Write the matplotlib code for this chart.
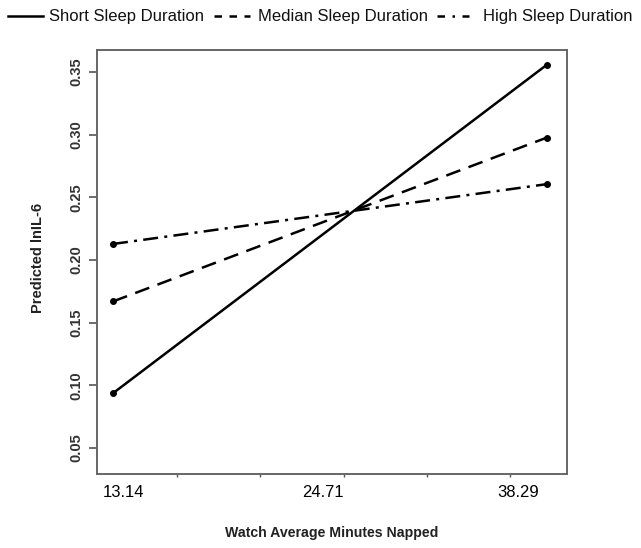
import numpy as np
import matplotlib
matplotlib.use("Agg")
import matplotlib.pyplot as plt
from matplotlib.lines import Line2D

plt.rcParams["font.family"] = ["Liberation Sans", "DejaVu Sans"]

# watch average minutes napped (low / high)
nap_x = [13.14, 38.29]
nap_labels = ["13.14", "24.71", "38.29"]
nap_label_pos = [13.72, 25.31, 36.61]

# predicted lnIL-6 per sleep-duration group
short_sleep = [0.0936, 0.3560]
median_sleep = [0.1669, 0.2978]
high_sleep = [0.2128, 0.2606]

y_ticks = [0.05, 0.10, 0.15, 0.20, 0.25, 0.30, 0.35]

W, H = 641, 548
fig = plt.figure(figsize=(W / 100, H / 100), dpi=100)
ax = fig.add_axes([97 / W, 1 - 474 / H, 470 / W, 424 / H])

styles = ["-", (0, (6, 3.5)), (0, (6, 2.5, 1.2, 2.5))]
for series, ls in zip([short_sleep, median_sleep, high_sleep], styles):
    ax.plot(nap_x, series, color="black", lw=1.8, ls=ls, marker="o", ms=4)

ax.set_xlim(12.213, 39.449)
ax.set_ylim(0.0291, 0.3677)

ax.set_yticks(y_ticks)
ax.set_yticklabels([f"{v:.2f}" for v in y_ticks], rotation=90, va="center",
                   fontsize=10.5, fontweight="bold", color="#333333")
ax.tick_params(axis="y", length=6, width=1.2, color="#555555", pad=4)

# x labels at the group positions, small unlabeled ticks along the axis
ax.set_xticks(nap_label_pos)
ax.set_xticklabels(nap_labels, fontsize=12)
ax.tick_params(axis="x", length=0, pad=8)
x0, x1 = ax.get_xlim()
ax.set_xticks([x0 + f * (x1 - x0) for f in (0.170, 0.347, 0.526, 0.702, 0.879)], minor=True)
ax.tick_params(axis="x", which="minor", length=2, width=1, color="#555555")

for s in ax.spines.values():
    s.set_color("#666666")
    s.set_linewidth(1.4)

fig.text(332 / W, 1 - 533 / H, "Watch Average Minutes Napped", fontsize=10.2,
         fontweight="bold", color="#222222", ha="center", va="center")
fig.text(38 / W, 1 - 258 / H, "Predicted lnIL-6", fontsize=10.5, fontweight="bold",
         color="#222222", rotation=90, ha="center", va="center")

# legend row across the top
leg_y = 1 - 16 / H
legend_items = [
    ("Short Sleep Duration", "-", 8, 43, 49),
    ("Median Sleep Duration", (0, (3, 3)), 214, 250, 258),
    ("High Sleep Duration", (0, (3, 3, 1, 3)), 437, 469, 483),
]
for label, ls, xa, xb, xt in legend_items:
    fig.add_artist(Line2D([xa / W, xb / W], [leg_y, leg_y], color="black", lw=1.8, ls=ls,
                          transform=fig.transFigure))
    fig.text(xt / W, leg_y, label, fontsize=12, ha="left", va="center", color="#111111")

fig.savefig("out.png", dpi=100)
